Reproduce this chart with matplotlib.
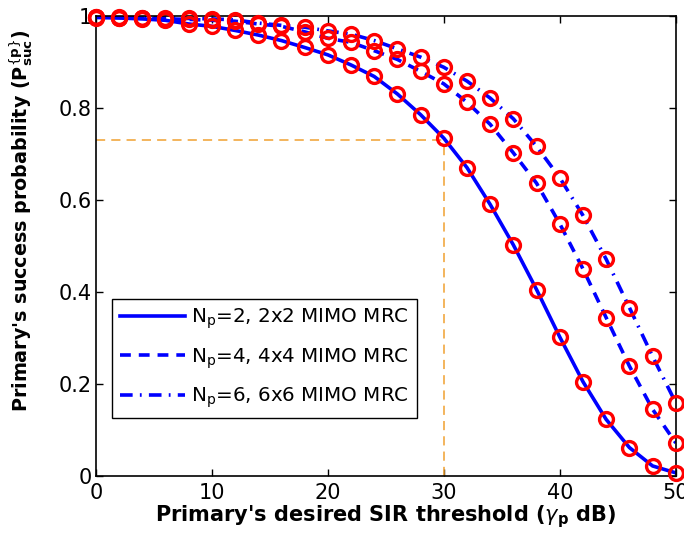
import matplotlib
matplotlib.use("Agg")
import matplotlib.pyplot as plt

plt.rcParams['font.family'] = ['DejaVu Sans']
plt.rcParams['mathtext.fontset'] = 'dejavusans'

# SIR threshold in dB
sir_db = [0, 2, 4, 6, 8, 10, 12, 14, 16, 18, 20, 22, 24,
          26, 28, 30, 32, 34, 36, 38, 40, 42, 44, 46, 48, 50]

# success probability for each antenna setup
p_np2 = [0.996, 0.995, 0.993, 0.990, 0.982, 0.977, 0.968, 0.958, 0.946, 0.931, 0.915, 0.893, 0.868,
         0.830, 0.785, 0.734, 0.670, 0.590, 0.502, 0.405, 0.302, 0.205, 0.123, 0.062, 0.022, 0.007]
p_np4 = [0.997, 0.996, 0.995, 0.993, 0.992, 0.990, 0.988, 0.982, 0.977, 0.965, 0.951, 0.942, 0.924,
         0.905, 0.879, 0.852, 0.812, 0.764, 0.702, 0.636, 0.548, 0.450, 0.344, 0.239, 0.145, 0.072]
p_np6 = [0.998, 0.997, 0.996, 0.995, 0.994, 0.993, 0.991, 0.984, 0.979, 0.975, 0.967, 0.960, 0.946,
         0.928, 0.910, 0.888, 0.858, 0.821, 0.776, 0.716, 0.648, 0.566, 0.471, 0.366, 0.260, 0.159]

labels = [r'N$_\mathregular{p}$=2, 2x2 MIMO MRC',
          r'N$_\mathregular{p}$=4, 4x4 MIMO MRC',
          r'N$_\mathregular{p}$=6, 6x6 MIMO MRC']

# operating point marked on the plot
x_mark = 30
y_mark = 0.73

fig = plt.figure(figsize=(6.84, 5.41), dpi=100)
ax = fig.add_axes([0.140, 0.120, 0.848, 0.851])

ax.plot(sir_db, p_np2, color='#0000ff', lw=2.6, ls='-', label=labels[0])
ax.plot(sir_db, p_np4, color='#0000ff', lw=2.6, ls=(0, (3, 2.2)), label=labels[1])
ax.plot(sir_db, p_np6, color='#0000ff', lw=2.6, ls=(0, (3.5, 2, 0.5, 2)), label=labels[2])

for p in (p_np2, p_np4, p_np6):
    ax.plot(sir_db, p, ls='none', marker='o', ms=10, mfc='none',
            mec='#ff0000', mew=2.4, clip_on=False, zorder=5)

ax.plot([0, x_mark], [y_mark, y_mark], color='#f0a030', lw=1.1, ls=(0, (6, 4)))
ax.plot([x_mark, x_mark], [0, y_mark], color='#f0a030', lw=1.1, ls=(0, (6, 4)))

ax.set_xlim(0, 50)
ax.set_ylim(0, 1)
ax.set_xticks([0, 10, 20, 30, 40, 50])
ax.set_yticks([0, 0.2, 0.4, 0.6, 0.8, 1])
ax.set_yticklabels(['0', '0.2', '0.4', '0.6', '0.8', '1'])
ax.tick_params(direction='in', labelsize=15, top=True, right=True, length=5, width=1)
ax.tick_params(axis='x', pad=5)
ax.tick_params(axis='y', pad=3)
for s in ax.spines.values():
    s.set_linewidth(1.2)

ax.set_xlabel(r"Primary's desired SIR threshold ($\gamma_\mathregular{p}$ dB)",
              fontsize=15, fontweight='bold', labelpad=0)
ax.set_ylabel(r"Primary's success probability (P$^{\{\mathregular{p}\}}_{\mathregular{suc}}$)",
              fontsize=13.8, fontweight='bold')
ax.yaxis.set_label_coords(-0.105, 0.555)

leg = ax.legend(loc='lower left', bbox_to_anchor=(0.028, 0.126), fontsize=14.3,
                fancybox=False, edgecolor='black', framealpha=1,
                handlelength=3.3, handletextpad=0.3, borderpad=0.4, labelspacing=0.75,
                borderaxespad=0)
leg.get_frame().set_linewidth(1.0)

fig.savefig('out.png', dpi=100)
